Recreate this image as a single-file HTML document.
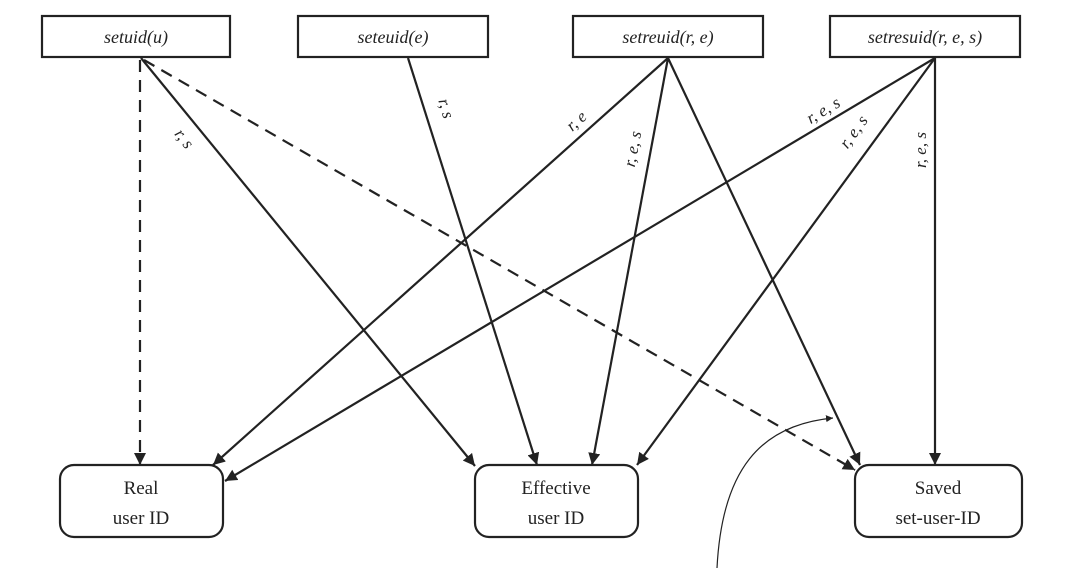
<!DOCTYPE html>
<html><head><meta charset="utf-8"><style>
html,body{margin:0;padding:0;background:#fff;}
svg{display:block;}
.t{font-family:"Liberation Serif",serif;font-style:italic;font-size:18px;fill:#222;}
.l{font-family:"Liberation Serif",serif;font-style:italic;font-size:17px;fill:#222;}
.b{font-family:"Liberation Serif",serif;font-size:19px;fill:#222;}
</style></head><body>
<svg width="1080" height="568" viewBox="0 0 1080 568" xmlns="http://www.w3.org/2000/svg">
<defs>
<marker id="a" viewBox="0 0 10 10" refX="10" refY="5" markerWidth="7" markerHeight="7" markerUnits="userSpaceOnUse" orient="auto"><path d="M0,0 L10,5 L0,10 z" fill="#222"/></marker>
<marker id="ah" viewBox="0 0 10 10" refX="10" refY="5" markerWidth="12" markerHeight="12" markerUnits="userSpaceOnUse" orient="auto"><path d="M0,0 L10,5 L0,10 z" fill="#222"/></marker>
</defs>
<g stroke="#222" stroke-width="2.2" fill="#fff">
<rect x="42" y="16" width="188" height="41"/>
<rect x="298" y="16" width="190" height="41"/>
<rect x="573" y="16" width="190" height="41"/>
<rect x="830" y="16" width="190" height="41"/>
<rect x="60" y="465" width="163" height="72" rx="14"/>
<rect x="475" y="465" width="163" height="72" rx="14"/>
<rect x="855" y="465" width="167" height="72" rx="14"/>
</g>
<text class="t" x="136" y="43" text-anchor="middle">setuid(u)</text>
<text class="t" x="393" y="43" text-anchor="middle">seteuid(e)</text>
<text class="t" x="668" y="43" text-anchor="middle">setreuid(r, e)</text>
<text class="t" x="925" y="43" text-anchor="middle">setresuid(r, e, s)</text>
<text class="b" x="141" y="494" text-anchor="middle">Real</text>
<text class="b" x="141" y="524" text-anchor="middle">user ID</text>
<text class="b" x="556" y="494" text-anchor="middle">Effective</text>
<text class="b" x="556" y="524" text-anchor="middle">user ID</text>
<text class="b" x="938" y="494" text-anchor="middle">Saved</text>
<text class="b" x="938" y="524" text-anchor="middle">set-user-ID</text>
<g stroke="#222" stroke-width="2.2" fill="none">
<line x1="140" y1="60" x2="140" y2="465" stroke-dasharray="12,8" marker-end="url(#ah)"/>
<line x1="144" y1="60" x2="855" y2="470" stroke-dasharray="12,8" marker-end="url(#ah)"/>
<line x1="141" y1="58" x2="475" y2="466" marker-end="url(#ah)"/>
<line x1="408" y1="58" x2="537" y2="465" marker-end="url(#ah)"/>
<line x1="668" y1="58" x2="213" y2="465" marker-end="url(#ah)"/>
<line x1="668" y1="58" x2="592" y2="465" marker-end="url(#ah)"/>
<line x1="668" y1="58" x2="860" y2="465" marker-end="url(#ah)"/>
<line x1="935" y1="58" x2="225" y2="481" marker-end="url(#ah)"/>
<line x1="935" y1="58" x2="637" y2="465" marker-end="url(#ah)"/>
<line x1="935" y1="58" x2="935" y2="465" marker-end="url(#ah)"/>
<path d="M717,568 C722,470 760,425 833,418" stroke-width="1.2" marker-end="url(#a)"/>
</g>
<text class="l" transform="translate(180,142) rotate(52)" text-anchor="middle">r, s</text>
<text class="l" transform="translate(441,110) rotate(74)" text-anchor="middle">r, s</text>
<text class="l" transform="translate(580,125) rotate(-42)" text-anchor="middle">r, e</text>
<text class="l" transform="translate(638,150) rotate(-79)" text-anchor="middle">r, e, s</text>
<text class="l" transform="translate(826,115) rotate(-31)" text-anchor="middle">r, e, s</text>
<text class="l" transform="translate(858,135) rotate(-54)" text-anchor="middle">r, e, s</text>
<text class="l" transform="translate(926,150) rotate(-90)" text-anchor="middle">r, e, s</text>
</svg>
</body></html>
